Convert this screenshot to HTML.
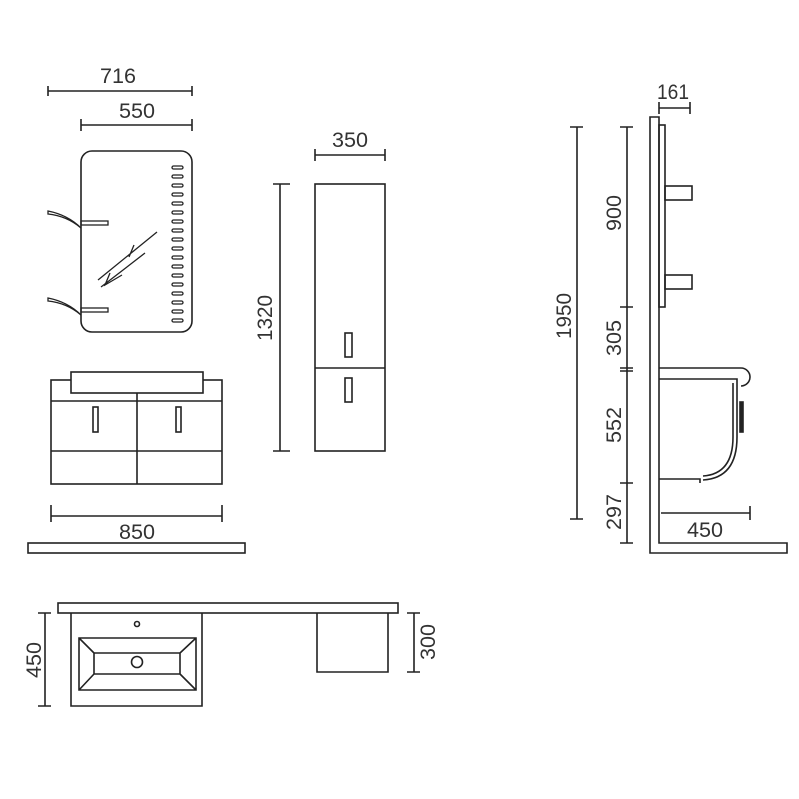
<!DOCTYPE html>
<html><head><style>html,body{margin:0;padding:0;background:#fff}svg{display:block}</style></head>
<body>
<svg width="799" height="799" viewBox="0 0 799 799" xmlns="http://www.w3.org/2000/svg" font-family="'Liberation Sans',sans-serif" font-size="21" fill="none" stroke="#222" stroke-width="1.6">
<g fill="#333" stroke="none" text-anchor="middle" lengthAdjust="spacingAndGlyphs">
<text x="118" y="83" textLength="36" lengthAdjust="spacingAndGlyphs">716</text>
<text x="137" y="118" textLength="36" lengthAdjust="spacingAndGlyphs">550</text>
<text x="350" y="147" textLength="36" lengthAdjust="spacingAndGlyphs">350</text>
<text x="137" y="539" textLength="36" lengthAdjust="spacingAndGlyphs">850</text>
<text x="673" y="99" textLength="32" lengthAdjust="spacingAndGlyphs">161</text>
<text x="705" y="537" textLength="36" lengthAdjust="spacingAndGlyphs">450</text>
<text transform="translate(272,318) rotate(-90)" textLength="46" lengthAdjust="spacingAndGlyphs">1320</text>
<text transform="translate(571,316) rotate(-90)" textLength="46" lengthAdjust="spacingAndGlyphs">1950</text>
<text transform="translate(621,213) rotate(-90)" textLength="36" lengthAdjust="spacingAndGlyphs">900</text>
<text transform="translate(621,338) rotate(-90)" textLength="36" lengthAdjust="spacingAndGlyphs">305</text>
<text transform="translate(621,425) rotate(-90)" textLength="36" lengthAdjust="spacingAndGlyphs">552</text>
<text transform="translate(621,512) rotate(-90)" textLength="36" lengthAdjust="spacingAndGlyphs">297</text>
<text transform="translate(41,660) rotate(-90)" textLength="36" lengthAdjust="spacingAndGlyphs">450</text>
<text transform="translate(435,642) rotate(-90)" textLength="36" lengthAdjust="spacingAndGlyphs">300</text>
</g>
<path d="M48 86v10M48 91H192M192 86v10M81 119v12M81 125H192M192 119v12"/>
<rect x="81" y="151" width="111" height="181" rx="11"/>
<g stroke-width="1.3">
<path d="M48 211q20 4 33 17q-14-12-33-14z" fill="#fff"/>
<rect x="81" y="221" width="27" height="4"/>
<path d="M48 298q20 4 33 17q-14-12-33-14z" fill="#fff"/>
<rect x="81" y="308" width="27" height="4"/>
<path d="M98 280L157 232M101 287L145 253M110 273l-5 12 17-10M134 245l-5 12"/>
</g>
<g stroke-width="1.3">
<rect x="172" y="166" width="11" height="3" rx="1.5"/><rect x="172" y="175" width="11" height="3" rx="1.5"/><rect x="172" y="184" width="11" height="3" rx="1.5"/><rect x="172" y="193" width="11" height="3" rx="1.5"/><rect x="172" y="202" width="11" height="3" rx="1.5"/><rect x="172" y="211" width="11" height="3" rx="1.5"/><rect x="172" y="220" width="11" height="3" rx="1.5"/><rect x="172" y="229" width="11" height="3" rx="1.5"/><rect x="172" y="238" width="11" height="3" rx="1.5"/><rect x="172" y="247" width="11" height="3" rx="1.5"/><rect x="172" y="256" width="11" height="3" rx="1.5"/><rect x="172" y="265" width="11" height="3" rx="1.5"/><rect x="172" y="274" width="11" height="3" rx="1.5"/><rect x="172" y="283" width="11" height="3" rx="1.5"/><rect x="172" y="292" width="11" height="3" rx="1.5"/><rect x="172" y="301" width="11" height="3" rx="1.5"/><rect x="172" y="310" width="11" height="3" rx="1.5"/><rect x="172" y="319" width="11" height="3" rx="1.5"/>
</g>
<rect x="51" y="380" width="171" height="104"/>
<rect x="71" y="372" width="132" height="21" fill="#fff"/>
<path d="M51 401H222M51 451H222M137 393V484"/>
<rect x="93" y="407" width="5" height="25"/><rect x="176" y="407" width="5" height="25"/>
<path d="M51 505v17M51 516H222M222 505v17"/>
<rect x="28" y="543" width="217" height="10"/>
<path d="M315 149v12M315 155H385M385 149v12"/>
<rect x="315" y="184" width="70" height="267"/>
<path d="M315 368H385"/>
<rect x="345" y="333" width="7" height="24"/><rect x="345" y="378" width="7" height="24"/>
<path d="M273 184h17M280 184V451M273 451h17"/>
<path d="M650 117H659V543H787V553H650Z"/>
<rect x="659" y="125" width="6" height="182"/>
<rect x="665" y="186" width="27" height="14"/>
<rect x="665" y="275" width="27" height="14"/>
<path d="M659 102V114M659 108H690M690 102V114"/>
<path d="M659 368H741A9 9 0 0 1 741 386M659 379H737V437Q737 478 703 480M733 383V437Q733 474 703 476M659 479H700v4"/>
<rect x="740" y="402" width="3" height="30" fill="#222"/>
<path d="M570 127h13M577 127V519M570 519h13"/>
<path d="M620 127h13M627 127V543M620 307h13M620 368h13M620 371h13M620 483h13M620 543h13"/>
<path d="M661 513H750M750 506v14"/>
<rect x="58" y="603" width="340" height="10"/>
<path d="M71 613V706H202V613M317 613V672H388V613"/>
<path d="M79 638H196V690H79ZM94 653H180V674H94ZM79 638L94 653M196 638L180 653M79 690L94 674M196 690L180 674"/>
<circle cx="137" cy="624" r="2.5"/><circle cx="137" cy="662" r="5.5"/>
<path d="M38 613h13M45 613V706M38 706h13M407 613h13M414 613V672M407 672h13"/>
</svg>
</body></html>
